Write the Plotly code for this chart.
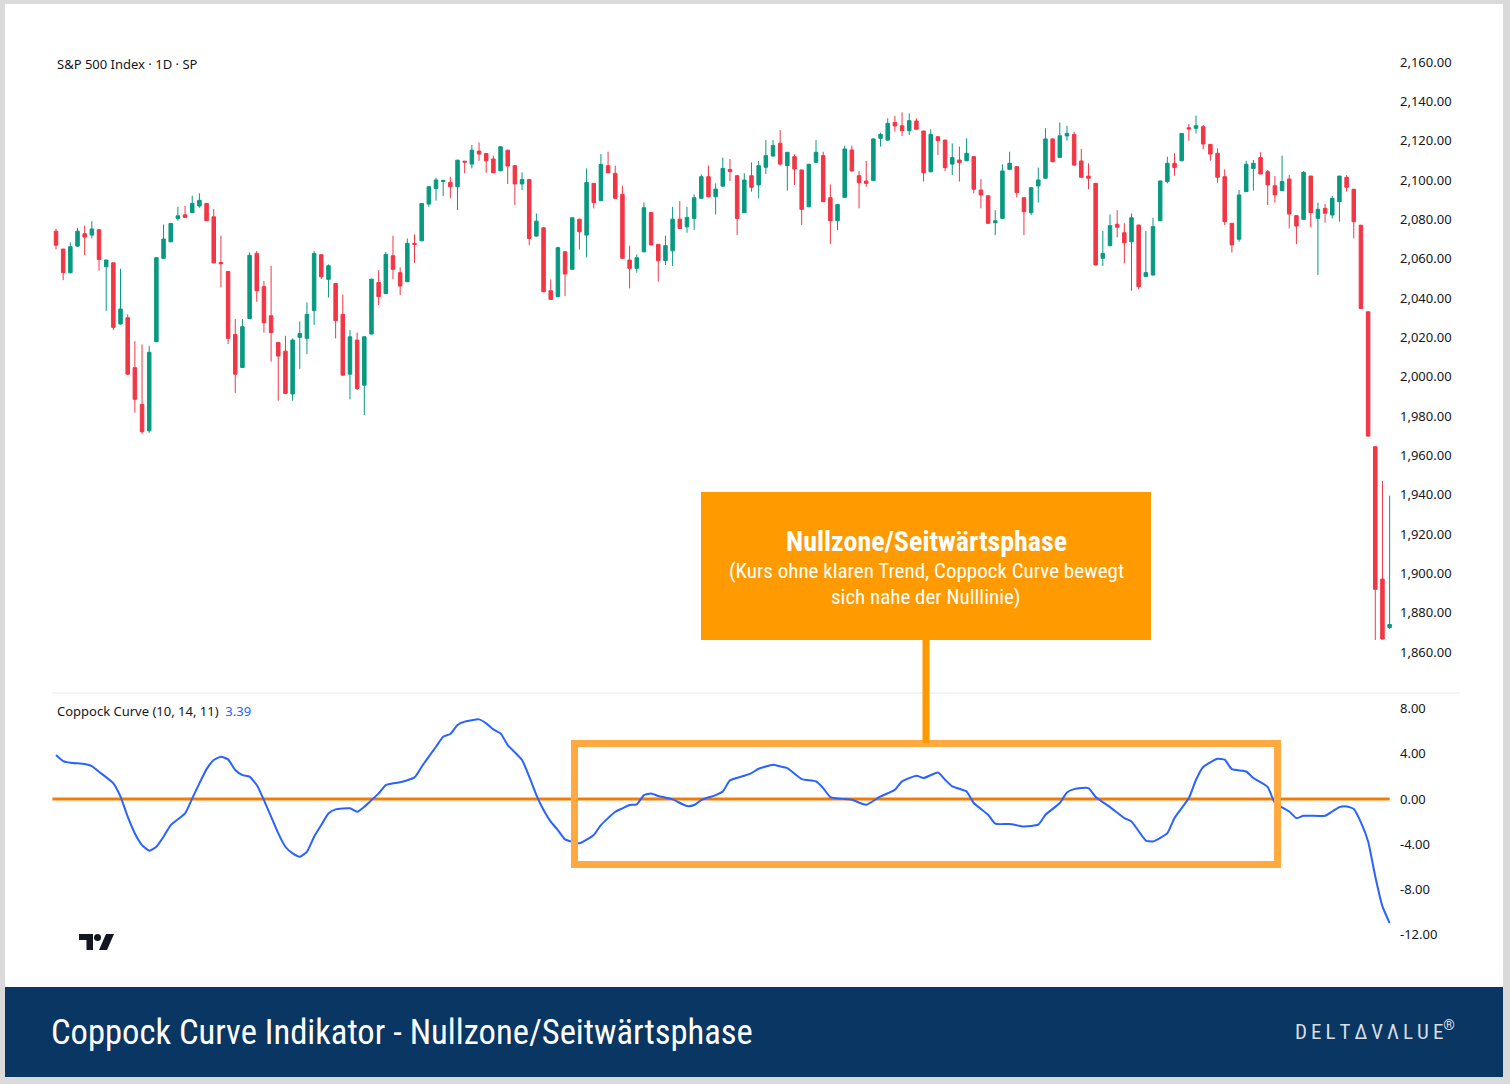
import plotly.graph_objects as go

W, H = 1510, 1084

# ---------------- data ----------------
opens = [2074.0, 2064.9, 2052.9, 2066.4, 2072.7, 2072.0, 2074.7, 2055.9, 2057.9, 2026.8,
         2030.0, 2004.6, 1985.9, 1972.5, 2017.8, 2060.2, 2068.6, 2080.5, 2082.3, 2083.4,
         2086.8, 2088.1, 2081.3, 2058.1, 2053.5, 2021.5, 2004.7, 2029.6, 2062.7, 2045.8,
         2031.0, 2017.4, 2013.0, 1991.2, 2020.0, 2019.5, 2033.6, 2062.0, 2049.5, 2047.4,
         2031.7, 2001.3, 2018.6, 1995.7, 2021.7, 2047.9, 2042.3, 2061.5, 2052.9, 2048.3,
         2067.8, 2069.1, 2087.8, 2095.7, 2099.3, 2098.8, 2096.6, 2109.6, 2108.1, 2114.7,
         2113.5, 2110.7, 2104.7, 2115.2, 2107.3, 2098.0, 2100.3, 2071.5, 2075.7, 2043.7,
         2040.7, 2063.5, 2054.6, 2080.1, 2072.0, 2098.3, 2089.5, 2107.3, 2103.4, 2092.7,
         2059.3, 2055.1, 2063.5, 2083.5, 2067.3, 2059.0, 2064.0, 2080.1, 2076.2, 2080.5,
         2090.7, 2101.7, 2091.5, 2096.9, 2105.4, 2102.2, 2083.4, 2102.2, 2097.5, 2106.5,
         2112.2, 2118.7, 2107.3, 2111.9, 2105.1, 2086.4, 2109.0, 2112.4, 2091.0, 2079.3,
         2091.2, 2115.3, 2102.2, 2099.5, 2099.7, 2121.2, 2120.3, 2129.3, 2127.6, 2125.1,
         2130.0, 2124.9, 2104.2, 2122.0, 2120.3, 2108.1, 2110.2, 2109.8, 2111.9, 2094.9,
         2092.0, 2078.3, 2080.5, 2105.4, 2106.8, 2091.0, 2083.4, 2097.0, 2100.9, 2120.9,
         2111.5, 2122.4, 2123.2, 2109.7, 2102.0, 2098.3, 2060.2, 2066.6, 2077.5, 2073.2,
         2068.6, 2077.1, 2050.9, 2051.7, 2079.3, 2099.2, 2108.5, 2109.8, 2126.6, 2126.3,
         2127.1, 2118.1, 2113.6, 2101.7, 2078.0, 2069.9, 2094.1, 2105.9, 2111.4, 2104.2,
         2097.1, 2094.6, 2100.5, 2081.9, 2080.0, 2102.0, 2080.5, 2085.6, 2082.2, 2089.0,
         2101.4, 2095.3, 2077.0, 2033.0, 1964.4, 1897.1, 1872.5]
highs = [2075.1, 2065.0, 2068.3, 2075.7, 2076.8, 2079.1, 2075.1, 2059.6, 2058.0, 2054.9,
         2031.7, 2018.1, 2016.4, 2015.7, 2060.8, 2077.4, 2078.2, 2086.4, 2086.9, 2092.0,
         2093.2, 2088.3, 2085.2, 2071.7, 2053.6, 2029.3, 2029.3, 2063.2, 2063.9, 2048.6,
         2056.4, 2017.6, 2020.8, 2019.5, 2028.1, 2037.8, 2063.9, 2062.2, 2057.1, 2047.6,
         2041.8, 2023.7, 2022.5, 2020.5, 2049.8, 2054.2, 2063.5, 2071.7, 2055.6, 2070.3,
         2072.4, 2088.3, 2096.8, 2101.2, 2099.9, 2101.7, 2110.3, 2109.7, 2117.8, 2119.1,
         2113.7, 2112.4, 2117.1, 2115.4, 2107.5, 2103.9, 2100.5, 2083.0, 2075.9, 2049.5,
         2066.1, 2063.7, 2081.0, 2080.3, 2105.9, 2098.5, 2113.2, 2114.4, 2107.3, 2097.1,
         2066.6, 2062.2, 2088.6, 2083.7, 2067.5, 2071.7, 2086.4, 2089.3, 2086.4, 2092.7,
         2102.9, 2107.3, 2098.3, 2111.4, 2110.7, 2102.4, 2103.4, 2109.0, 2109.7, 2120.3,
         2120.3, 2125.4, 2114.3, 2113.1, 2105.3, 2108.2, 2120.3, 2114.4, 2097.8, 2087.8,
         2117.5, 2117.5, 2104.6, 2109.7, 2121.1, 2124.1, 2131.4, 2132.7, 2134.4, 2133.9,
         2131.4, 2125.1, 2125.8, 2122.2, 2120.5, 2118.6, 2117.0, 2121.2, 2112.1, 2100.5,
         2092.2, 2084.7, 2108.0, 2114.4, 2107.0, 2091.2, 2096.3, 2106.3, 2126.3, 2121.1,
         2129.3, 2127.6, 2124.6, 2115.8, 2108.5, 2098.5, 2074.1, 2082.5, 2084.7, 2078.0,
         2083.0, 2077.3, 2074.1, 2080.8, 2099.7, 2111.9, 2113.6, 2123.9, 2128.5, 2132.7,
         2128.0, 2118.3, 2116.1, 2105.4, 2078.2, 2094.9, 2109.8, 2110.2, 2114.1, 2105.1,
         2102.0, 2112.4, 2102.5, 2082.1, 2104.6, 2102.2, 2088.5, 2087.8, 2091.9, 2102.2,
         2102.5, 2095.5, 2077.2, 2033.2, 1964.6, 1947.0, 1939.5]
lows = [2064.7, 2049.1, 2052.5, 2066.0, 2061.8, 2070.3, 2053.9, 2033.5, 2023.7, 2026.5,
        2001.0, 1981.7, 1971.0, 1971.5, 2017.5, 2060.0, 2068.4, 2079.3, 2080.8, 2083.2,
        2085.9, 2079.1, 2057.7, 2045.4, 2016.6, 1991.8, 2004.5, 2029.4, 2038.1, 2022.4,
        2007.6, 1987.8, 1991.3, 1987.8, 2004.0, 2011.5, 2026.3, 2049.6, 2040.3, 2019.5,
        2000.6, 1988.5, 1993.2, 1980.5, 2021.5, 2036.4, 2042.1, 2049.5, 2041.5, 2048.1,
        2057.9, 2068.9, 2086.4, 2089.5, 2091.8, 2090.7, 2084.7, 2103.4, 2105.9, 2109.8,
        2103.7, 2103.5, 2104.5, 2098.0, 2087.3, 2094.9, 2066.9, 2071.3, 2043.0, 2039.1,
        2040.5, 2041.0, 2054.4, 2064.7, 2060.7, 2085.6, 2089.3, 2103.5, 2090.5, 2060.0,
        2044.9, 2052.9, 2063.3, 2066.8, 2048.3, 2056.8, 2056.3, 2075.2, 2073.2, 2074.6,
        2090.5, 2091.3, 2082.5, 2096.7, 2099.5, 2072.0, 2083.2, 2094.1, 2090.7, 2103.1,
        2112.0, 2107.3, 2094.6, 2097.5, 2077.1, 2086.2, 2108.8, 2088.8, 2067.5, 2074.6,
        2091.0, 2104.4, 2085.6, 2096.6, 2099.5, 2117.0, 2120.0, 2124.6, 2122.4, 2122.9,
        2125.6, 2099.2, 2104.0, 2112.7, 2104.6, 2102.5, 2099.2, 2109.6, 2093.2, 2085.6,
        2077.8, 2072.0, 2080.3, 2105.2, 2091.2, 2072.0, 2082.2, 2088.5, 2100.7, 2109.1,
        2111.3, 2120.0, 2107.4, 2101.2, 2095.3, 2056.6, 2056.3, 2066.4, 2070.9, 2057.6,
        2043.7, 2044.4, 2050.7, 2051.5, 2079.1, 2098.3, 2102.2, 2109.6, 2120.0, 2123.7,
        2115.6, 2109.8, 2098.7, 2077.1, 2063.1, 2068.6, 2093.9, 2094.6, 2102.9, 2087.3,
        2088.5, 2094.4, 2075.4, 2067.5, 2079.8, 2075.9, 2051.7, 2078.3, 2080.5, 2078.8,
        2094.1, 2070.3, 2034.5, 1969.6, 1866.1, 1866.4, 1871.7]
closes = [2066.9, 2052.9, 2066.1, 2074.0, 2071.0, 2075.1, 2059.6, 2059.3, 2025.1, 2034.4,
          2001.3, 1988.5, 1972.0, 2012.4, 2060.5, 2070.0, 2077.9, 2081.8, 2081.0, 2088.1,
          2089.7, 2079.3, 2057.9, 2057.4, 2019.5, 2001.3, 2025.4, 2061.7, 2043.7, 2027.4,
          2022.4, 2010.5, 1991.5, 2018.6, 2022.0, 2031.7, 2062.7, 2050.8, 2056.4, 2028.5,
          2000.8, 2020.3, 1994.0, 2020.3, 2049.6, 2040.7, 2062.2, 2054.6, 2046.1, 2067.8,
          2067.3, 2088.1, 2096.6, 2100.0, 2099.8, 2096.6, 2110.1, 2109.1, 2115.2, 2113.2,
          2109.8, 2103.7, 2116.9, 2107.1, 2098.0, 2100.3, 2070.3, 2079.1, 2043.2, 2039.3,
          2065.6, 2052.2, 2080.8, 2073.7, 2098.8, 2088.5, 2107.9, 2103.7, 2090.7, 2060.2,
          2055.1, 2060.5, 2085.9, 2067.0, 2059.0, 2066.6, 2080.1, 2075.4, 2081.0, 2091.0,
          2101.7, 2091.5, 2095.4, 2105.9, 2104.3, 2080.5, 2100.0, 2096.3, 2107.3, 2112.4,
          2117.5, 2108.1, 2114.1, 2105.6, 2085.1, 2108.0, 2114.1, 2089.0, 2079.3, 2087.6,
          2115.8, 2104.6, 2098.6, 2098.3, 2120.9, 2123.2, 2128.8, 2127.5, 2125.1, 2130.2,
          2125.8, 2103.7, 2123.2, 2120.0, 2106.3, 2111.4, 2108.8, 2113.6, 2095.3, 2092.4,
          2078.0, 2079.3, 2104.6, 2108.5, 2093.6, 2083.9, 2096.1, 2100.0, 2120.9, 2109.3,
          2122.5, 2123.7, 2107.6, 2101.4, 2100.9, 2056.8, 2062.7, 2076.8, 2076.0, 2068.1,
          2080.8, 2045.8, 2052.9, 2076.3, 2099.5, 2108.5, 2106.4, 2123.7, 2125.9, 2127.6,
          2118.3, 2113.2, 2101.4, 2078.8, 2067.0, 2092.4, 2108.0, 2108.5, 2103.1, 2097.5,
          2092.4, 2099.2, 2082.7, 2076.6, 2103.9, 2083.4, 2085.1, 2083.1, 2090.7, 2102.0,
          2096.3, 2078.8, 2034.7, 1969.8, 1891.9, 1866.6, 1874.0]
bar_index = list(range(len(closes)))

# Coppock Curve (10, 14, 11) readings at bar positions
cc_index = [0, 1, 2, 4, 5, 6, 8, 9, 10, 11, 12, 13, 14, 15, 16, 18, 19, 20, 21, 22,
            23, 24, 25, 26, 27, 28, 29, 30, 31, 32, 33, 34, 35, 36, 37, 38, 39, 41, 42, 43,
            44, 45, 46, 47, 48, 50, 51, 52, 53, 54, 55, 56, 57, 59, 60, 61, 62, 63, 65, 66,
            67, 68, 69, 70, 71, 72, 73, 75, 76, 78, 79, 80, 81, 82, 83, 84, 86, 88, 89, 90,
            92, 93, 94, 96, 97, 98, 100, 101, 102, 104, 106, 107, 108, 110, 111, 113, 115, 117, 118, 120,
            121, 123, 124, 125, 127, 128, 130, 131, 133, 135, 137, 138, 140, 141, 142, 144, 145, 147, 149, 150,
            152, 153, 155, 156, 158, 159, 160, 162, 163, 164, 166, 167, 169, 170, 172, 173, 174, 177, 178, 179,
            180, 181, 182, 183, 184, 185, 186]
cc_value = [3.90, 3.36, 3.21, 3.10, 2.92, 2.42, 1.39, 0.21, -1.56, -3.04, -4.07, -4.57, -4.22, -3.33, -2.30, -1.27, 0.06, 1.39, 2.65, 3.45,
            3.75, 3.51, 2.57, 2.12, 1.98, 1.24, -0.09, -1.56, -3.04, -4.22, -4.81, -5.10, -4.66, -3.33, -2.30, -1.27, -0.91, -0.82, -1.12, -0.68,
            -0.09, 0.50, 1.24, 1.39, 1.48, 1.92, 2.86, 3.75, 4.63, 5.52, 5.76, 6.56, 6.85, 7.05, 6.70, 6.17, 5.81, 4.78, 3.45, 1.98,
            0.35, -0.97, -2.00, -2.74, -3.57, -3.78, -3.92, -3.18, -2.30, -1.12, -0.82, -0.53, -0.47, 0.35, 0.50, 0.27, -0.03, -0.62, -0.53, -0.09,
            0.35, 0.67, 1.65, 2.06, 2.30, 2.68, 3.04, 2.89, 2.74, 1.77, 1.56, 0.97, 0.18, 0.00, -0.06, -0.50, 0.23, 0.82, 1.56, 2.06,
            1.86, 2.35, 1.71, 1.12, 0.67, -0.35, -1.39, -2.18, -2.21, -2.42, -2.27, -1.39, -0.35, 0.59, 0.88, 0.97, 0.18, -0.71, -1.68, -1.98,
            -3.67, -3.75, -3.01, -1.68, 0.09, 1.71, 2.83, 3.57, 3.48, 2.65, 2.44, 1.86, 1.06, -0.35, -1.10, -1.68, -1.48, -1.48, -1.10, -0.71,
            -0.65, -0.88, -2.07, -3.75, -6.85, -9.50, -10.97]

price_ticks = [1860, 1880, 1900, 1920, 1940, 1960, 1980, 2000, 2020, 2040, 2060, 2080, 2100, 2120, 2140, 2160]
cc_ticks = [8, 4, 0, -4, -8, -12]
cc_tick_labels = ["8.00", "4.00", "0.00", "-4.00", "-8.00", "-12.00"]

symbol_label = "S&amp;P 500 Index · 1D · SP"
indicator_label = "Coppock Curve (10, 14, 11)"
indicator_last = "3.39"
box_title = "Nullzone/Seitwärtsphase"
box_line1 = "(Kurs ohne klaren Trend, Coppock Curve bewegt"
box_line2 = "sich nahe der Nulllinie)"
footer_title = "Coppock Curve Indikator - Nullzone/Seitwärtsphase"

# ---------------- helpers (pixel -> paper) ----------------
def px(x):
    return x / W

def py(y):
    return 1 - y / H

COND = "Roboto Condensed, Liberation Sans Narrow, DejaVu Sans Condensed, Roboto, sans-serif"
UI = "Noto Sans, Open Sans, DejaVu Sans, sans-serif"

fig = go.Figure()

fig.add_trace(go.Candlestick(
    x=bar_index, open=opens, high=highs, low=lows, close=closes,
    increasing=dict(line=dict(color="#089981", width=1), fillcolor="#089981"),
    decreasing=dict(line=dict(color="#F23645", width=1), fillcolor="#F23645"),
    whiskerwidth=0, xaxis="x", yaxis="y", hoverinfo="skip", showlegend=False,
))

fig.add_trace(go.Scatter(
    x=cc_index, y=cc_value, mode="lines", xaxis="x2", yaxis="y2",
    line=dict(color="#2962FF", width=2, shape="spline", smoothing=0.5),
    hoverinfo="skip", showlegend=False,
))

x_dom = [px(48), px(1395)]
x_rng = [-1.116, 186.75]
axis_common = dict(domain=x_dom, range=x_rng, showticklabels=False, showgrid=False,
                   zeroline=False, showline=False, ticks="", fixedrange=True)

shapes = [
    # white canvas & footer band
    dict(type="rect", xref="paper", yref="paper", x0=px(5), x1=px(1503), y0=py(987), y1=py(4),
         fillcolor="white", line=dict(width=0), layer="below"),
    dict(type="rect", xref="paper", yref="paper", x0=px(5), x1=px(1503), y0=py(1077), y1=py(987),
         fillcolor="#0A3663", line=dict(width=0), layer="below"),
    # pane separator
    dict(type="line", xref="paper", yref="paper", x0=px(52), x1=px(1460), y0=py(693), y1=py(693),
         line=dict(color="#E6E8EE", width=1), layer="below"),
    # zero line of indicator
    dict(type="line", xref="x2", yref="y2", x0=-0.5, x1=186, y0=0, y1=0,
         line=dict(color="#F57C00", width=3), layer="below"),
    # highlight frame
    dict(type="rect", xref="paper", yref="paper", x0=px(574.5), x1=px(1277.5), y0=py(864.5), y1=py(743.5),
         line=dict(color="#FFA940", width=7), fillcolor="rgba(0,0,0,0)", layer="above"),
    # connector
    dict(type="line", xref="paper", yref="paper", x0=px(926), x1=px(926), y0=py(640), y1=py(743),
         line=dict(color="#FF9900", width=7), layer="above"),
    # callout box
    dict(type="rect", xref="paper", yref="paper", x0=px(701), x1=px(1151), y0=py(640), y1=py(492),
         fillcolor="#FF9A00", line=dict(width=0), layer="above"),
]

def path(points):
    return "M " + " L ".join(f"{px(a):.5f},{py(b):.5f}" for a, b in points) + " Z"

# TradingView logo (drawn)
shapes += [
    dict(type="path", xref="paper", yref="paper",
         path=path([(79, 934), (93, 934), (93, 950), (86.5, 950), (86.5, 940), (79, 940)]),
         fillcolor="#131722", line=dict(width=0), layer="above"),
    dict(type="circle", xref="paper", yref="paper", x0=px(94), x1=px(101), y0=py(941), y1=py(934),
         fillcolor="#131722", line=dict(width=0), layer="above"),
    dict(type="path", xref="paper", yref="paper",
         path=path([(106, 934), (114, 934), (107, 950), (99, 950)]),
         fillcolor="#131722", line=dict(width=0), layer="above"),
]

annotations = [
    dict(xref="paper", yref="paper", x=px(55), y=py(64), text=symbol_label, showarrow=False,
         xanchor="left", yanchor="middle", font=dict(family=UI, size=13, color="#131722")),
    dict(xref="paper", yref="paper", x=px(55), y=py(711),
         text=f"{indicator_label}  <span style='color:#2962FF'>{indicator_last}</span>", showarrow=False,
         xanchor="left", yanchor="middle", font=dict(family=UI, size=13, color="#131722")),
    dict(xref="paper", yref="paper", x=px(926), y=py(541), text=f"<b>{box_title}</b>", showarrow=False,
         xanchor="center", yanchor="middle", font=dict(family=COND, size=28, color="white")),
    dict(xref="paper", yref="paper", x=px(926), y=py(571), text=box_line1, showarrow=False,
         xanchor="center", yanchor="middle", font=dict(family=COND, size=21, color="white")),
    dict(xref="paper", yref="paper", x=px(926), y=py(597), text=box_line2, showarrow=False,
         xanchor="center", yanchor="middle", font=dict(family=COND, size=21, color="white")),
    dict(xref="paper", yref="paper", x=px(49), y=py(1032), text=footer_title, showarrow=False,
         xanchor="left", yanchor="middle", font=dict(family=COND, size=34.6, color="white")),
    dict(xref="paper", yref="paper", x=px(1457), y=py(1030),
         text="D\u2009E\u2009L\u2009T\u2009Δ\u2009V\u2009Λ\u2009L\u2009U\u2009E<sup>®</sup>", showarrow=False,
         xanchor="right", yanchor="middle", font=dict(family=COND, size=21, color="#D9DEE6")),
]

fig.update_layout(
    width=W, height=H, autosize=False,
    margin=dict(l=0, r=0, t=0, b=0),
    paper_bgcolor="#DADADA", plot_bgcolor="white",
    showlegend=False,
    xaxis=dict(anchor="y", rangeslider=dict(visible=False), **axis_common),
    xaxis2=dict(anchor="y2", matches="x", **axis_common),
    yaxis=dict(domain=[py(690), py(40)], range=[1840.7, 2171.2], side="right", anchor="x",
               tickvals=price_ticks, tickformat=",.2f", showgrid=False, zeroline=False,
               showline=False, ticks="", fixedrange=True, ticklabelstandoff=4,
               tickfont=dict(family=UI, size=13, color="#131722")),
    yaxis2=dict(domain=[py(960), py(697)], range=[-14.24, 9.03], side="right", anchor="x2",
                tickvals=cc_ticks, ticktext=cc_tick_labels, showgrid=False, zeroline=False,
                showline=False, ticks="", fixedrange=True, ticklabelstandoff=4,
                tickfont=dict(family=UI, size=13, color="#131722")),
    shapes=shapes, annotations=annotations,
)

fig.write_html("out.html", config={"displayModeBar": False},
               post_script="document.body.style.margin='0px';")
